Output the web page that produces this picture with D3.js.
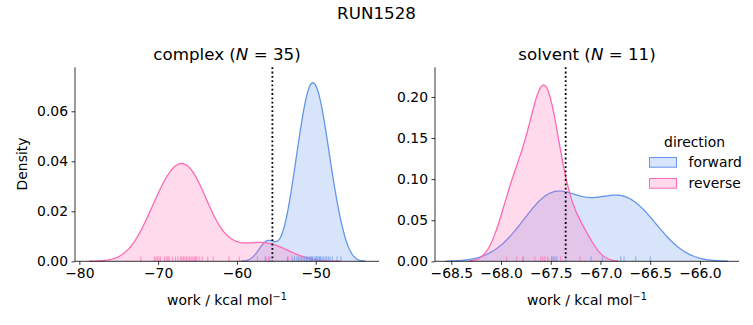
<!DOCTYPE html>
<html><head><meta charset="utf-8">
<script src="https://cdn.jsdelivr.net/npm/d3@7"></script>
<style>body{margin:0;background:#fff;} svg{display:block;font-family:"DejaVu Sans",sans-serif;}</style>
</head><body><svg id="c" width="753" height="325"></svg>
<script>
const directions = ["forward", "reverse"];
const colors = ["#6495ed", "#ff69b4"];
const suptitle = "RUN1528";
const panelNames = ["complex", "solvent"];
const panelN = [35, 11];
// work samples (kcal/mol) read from the rug
const complexForward = [-56.4, -55.8, -53.6, -53.0, -52.7, -52.4, -52.2, -52.0, -51.8, -51.6, -51.4, -51.2, -51.1, -51.0,
  -50.8, -50.7, -50.6, -50.5, -50.4, -49.5, -50.2, -50.0, -49.9, -49.8, -49.6, -49.4, -49.2, -49.0, -48.8, -48.6, -48.4,
  -48.2, -47.9, -47.3, -46.8];
const complexReverse = [-72.2, -70.5, -70.3, -70.1, -69.9, -69.7, -69.2, -68.9, -68.75, -68.6, -68.2, -67.8, -67.5, -67.2,
  -67.0, -66.8, -66.6, -66.4, -66.2, -66.0, -65.8, -65.6, -65.4, -65.25, -65.1, -64.8, -64.4, -63.7, -63.0,
  -61.0, -59.7, -57.4, -56.3, -56.0, -53.5];
const solventForward = [-67.776, -67.49, -67.474, -67.457, -67.44, -67.095, -66.981, -66.796, -66.763, -66.645, -66.5];
const solventReverse = [-67.943, -67.842, -67.78, -67.66, -67.6, -67.58, -67.56, -67.53, -67.49, -67.4, -67.205];
const estimates = [-55.5, -67.35];
const complexXTicks = [-80, -70, -60, -50];
const complexYTicks = [0, 0.02, 0.04, 0.06];
const solventXTicks = [-68.5, -68.0, -67.5, -67.0, -66.5, -66.0];
const solventYTicks = [0, 0.05, 0.10, 0.15, 0.20];

const svg = d3.select("#c");
const total = complexForward.length + complexReverse.length + solventForward.length + solventReverse.length;

function kde(samples) {
  const n = samples.length;
  const bw = d3.deviation(samples) * Math.pow(n, -0.2);
  const lo = d3.min(samples) - 3 * bw, hi = d3.max(samples) + 3 * bw;
  const norm = 1 / (n * bw * Math.sqrt(2 * Math.PI)) * (n / total);
  return d3.range(200).map(i => {
    const x = lo + (hi - lo) * i / 199;
    return [x, norm * d3.sum(samples, s => Math.exp(-0.5 * ((x - s) / bw) ** 2))];
  });
}

const panels = [
  {name: panelNames[0], N: panelN[0], data: [complexForward, complexReverse], xt: complexXTicks, yt: complexYTicks,
   xr: [75, 379], xd: [-80.55, -41.97], yd: [0, 0.0776], xfmt: d3.format(".0f"), yfmt: d3.format(".2f"), est: estimates[0]},
  {name: panelNames[1], N: panelN[1], data: [solventForward, solventReverse], xt: solventXTicks, yt: solventYTicks,
   xr: [435, 739], xd: [-68.664, -65.607], yd: [0, 0.2361], xfmt: d3.format(".1f"), yfmt: d3.format(".2f"), est: estimates[1]}
];
const yTop = 67.3, yBot = 261.3;
const minus = s => s.replace("-", "\u2212");

panels.forEach((p, pi) => {
  const x = d3.scaleLinear().domain(p.xd).range(p.xr);
  const y = d3.scaleLinear().domain(p.yd).range([yBot, yTop]);
  const g = svg.append("g");
  const area = d3.area().x(d => x(d[0])).y0(y(0)).y1(d => y(d[1]));
  const line = d3.line().x(d => x(d[0])).y(d => y(d[1]));
  p.data.forEach((s, i) => {
    const k = kde(s);
    g.append("path").attr("d", area(k)).attr("fill", colors[i]).attr("fill-opacity", 0.25);
    g.append("path").attr("d", line(k)).attr("fill", "none").attr("stroke", colors[i]).attr("stroke-width", 1.3);
  });
  // rug
  p.data.forEach((s, i) => {
    g.selectAll(null).data(s).enter().append("line")
      .attr("x1", d => x(d)).attr("x2", d => x(d))
      .attr("y1", yBot).attr("y2", yBot - 0.025 * (yBot - yTop))
      .attr("stroke", colors[i]).attr("stroke-width", 1).attr("stroke-opacity", 0.7);
  });
  // estimate line
  g.append("line").attr("x1", x(p.est)).attr("x2", x(p.est)).attr("y1", yTop).attr("y2", yBot)
    .attr("stroke", "#000").attr("stroke-width", 1.8).attr("stroke-dasharray", "1.8,2.5");
  // axes
  const xa = d3.axisBottom(x).tickValues(p.xt).tickFormat(d => minus(p.xfmt(d))).tickSize(3.5).tickPadding(3.5);
  const ya = d3.axisLeft(y).tickValues(p.yt).tickFormat(d => p.yfmt(d)).tickSize(3.5).tickPadding(3.5);
  const gx = svg.append("g").attr("transform", `translate(0,${yBot})`).call(xa);
  gx.select(".domain").attr("d", `M${p.xr[0]},0H${p.xr[1]}`);
  const gy = svg.append("g").attr("transform", `translate(${p.xr[0]},0)`).call(ya);
  gy.select(".domain").attr("d", `M0,${yTop}V${yBot}`);
  [gx, gy].forEach(a => {
    a.selectAll(".domain").attr("stroke", "#000").attr("stroke-width", 0.8);
    a.selectAll(".tick line").attr("stroke", "#000").attr("stroke-width", 0.8);
    a.selectAll("text").attr("font-size", 13.9).attr("fill", "#000").attr("font-family", "DejaVu Sans");
  });
  // title
  const cx = (p.xr[0] + p.xr[1]) / 2;
  const t = svg.append("text").attr("x", cx).attr("y", 59.5).attr("text-anchor", "middle").attr("font-size", 16.7);
  t.append("tspan").text(p.name + " (");
  t.append("tspan").attr("font-style", "italic").text("N");
  t.append("tspan").text(" = " + p.N + ")");
  // x label
  const xl = svg.append("text").attr("x", cx).attr("y", 305).attr("text-anchor", "middle").attr("font-size", 13.9);
  xl.append("tspan").text("work / kcal mol");
  xl.append("tspan").attr("dy", -5).attr("font-size", 9.7).text("\u22121");
});

svg.append("text").attr("transform", "translate(26.5,164) rotate(-90)").attr("text-anchor", "middle")
  .attr("font-size", 13.9).text("Density");
svg.append("text").attr("x", 376.5).attr("y", 19).attr("text-anchor", "middle").attr("font-size", 16.7).text(suptitle);

// legend
const lg = svg.append("g");
lg.append("text").attr("x", 694.5).attr("y", 146.5).attr("text-anchor", "middle").attr("font-size", 13.9).text("direction");
directions.forEach((d, i) => {
  const yy = 157.5 + i * 21;
  lg.append("rect").attr("x", 649.5).attr("y", yy).attr("width", 27).attr("height", 9.7)
    .attr("fill", colors[i]).attr("fill-opacity", 0.25).attr("stroke", colors[i]).attr("stroke-width", 1);
  lg.append("text").attr("x", 688.5).attr("y", yy + 9.5).attr("font-size", 13.9).text(d);
});
</script></body></html>
